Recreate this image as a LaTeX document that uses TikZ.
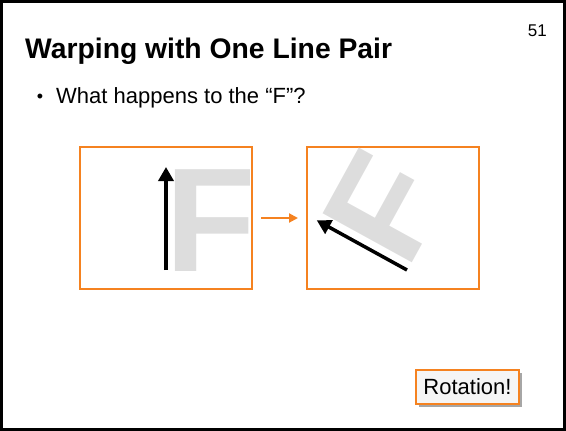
\documentclass[tikz,border=0pt]{standalone}
\usepackage{fontspec}
\setmainfont{Liberation Sans}
\usetikzlibrary{arrows.meta,shadows}
\definecolor{slideorange}{RGB}{245,130,32}
\definecolor{lightF}{RGB}{221,221,221}
\begin{document}
\begin{tikzpicture}[x=1pt, y=-1pt,
    panel/.style={draw=slideorange, line width=2pt, minimum width=172pt, minimum height=142pt, inner sep=0pt},
    bigF/.style={text=lightF, font=\fontsize{148}{148}\selectfont\bfseries, inner sep=0pt, anchor=base west},
    linepair/.style={line width=3.5pt, -{Triangle[length=14pt,width=15pt]}},
    plain/.style={inner sep=0pt, font=\fontsize{22}{26}\selectfont}
  ]
  \useasboundingbox (0,0) rectangle (566,431);
  \draw[line width=3pt] (1.5,1.5) rectangle (564.5,429.5);

  \node (num) [anchor=base east, inner sep=0pt, font=\fontsize{17}{20}\selectfont] at (547,36) {51};
  \node (title) [anchor=base west, inner sep=0pt, font=\fontsize{28.3}{34}\selectfont\bfseries] at (25,59) {Warping with One Line Pair};
  \node (bullet) [plain, anchor=base, font=\fontsize{18}{22}\selectfont] at (40,102) {•};
  \node (question) [plain, anchor=base west] at (56,103) {What happens to the “F”?};

  % the two images
  \node (src) [panel] at (166,218) {};
  \node (dst) [panel] at (393,218) {};
  \draw [draw=slideorange, line width=2pt, -{Triangle[length=9pt,width=9pt]}]
    ([xshift=8pt]src.east) -- ([xshift=-8pt]dst.west);

  % line pair, before
  \node (srcF) [bigF] at (165,271) {F};
  \coordinate (a0) at (166,270);
  \coordinate (a1) at (166,167);
  \draw [linepair] (a0) -- (a1);

  % line pair, after
  \begin{scope}[shift={(407,270)}, rotate=61.2]
    \node (dstF) [bigF, transform shape] at (-1,1) {F};
    \coordinate (b0) at (0,0);
    \coordinate (b1) at (0,-103);
    \draw [linepair] (b0) -- (b1);
  \end{scope}

  \node (note) [plain, draw=slideorange, line width=2pt, fill=black!4,
    minimum width=103pt, minimum height=34pt,
    drop shadow={shadow xshift=3pt, shadow yshift=-3pt, fill=black!35, opacity=1}]
    at (467.5,387) {Rotation!};
\end{tikzpicture}
\end{document}
